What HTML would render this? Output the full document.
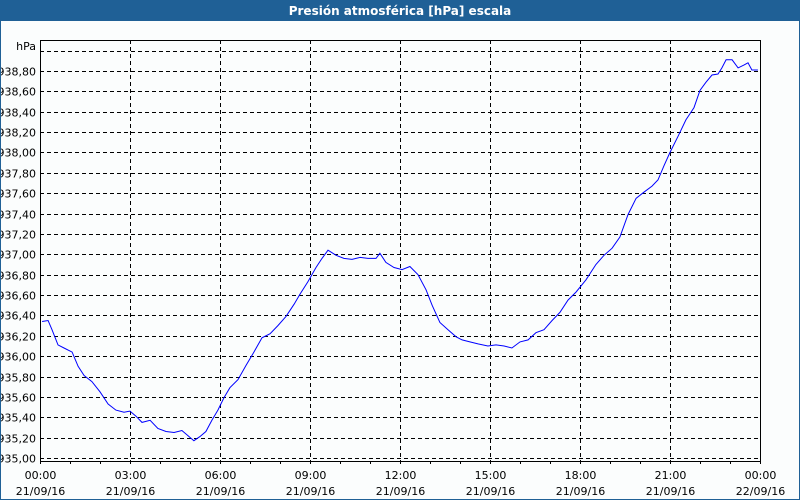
<!DOCTYPE html>
<html><head><meta charset="utf-8"><style>
html,body{margin:0;padding:0;background:#fff}
#wrap{position:relative;width:798px;height:498px;border:1px solid #1f6096;background:#fbfdfd;overflow:hidden}
#title{position:absolute;left:0;top:0;width:798px;height:20px;background:#1f6096;color:#fff;font:bold 12px "DejaVu Sans","Liberation Sans",sans-serif;text-align:center;line-height:20px}
svg{position:absolute;left:-1px;top:-1px}
svg text{font-family:"DejaVu Sans","Liberation Sans",sans-serif;font-size:11px;fill:#000}
</style></head><body>
<div id="wrap">
<div id="title">Presión atmosférica [hPa] escala</div>
<svg id="chart" width="800" height="500"></svg>
</div>
<script>
const hours=[0.07,0.27,0.4,0.6,0.8,1.07,1.27,1.47,1.73,2,2.27,2.53,2.8,3,3.2,3.4,3.67,3.93,4.2,4.47,4.73,4.93,5.13,5.33,5.53,5.73,5.93,6.13,6.33,6.6,6.87,7.13,7.4,7.67,7.93,8.2,8.47,8.67,8.93,9.2,9.4,9.6,9.87,10.13,10.4,10.67,10.93,11.2,11.33,11.53,11.8,12.07,12.33,12.6,12.87,13.07,13.33,13.6,13.87,14.07,14.33,14.6,14.93,15.2,15.47,15.73,16,16.27,16.53,16.8,17.07,17.33,17.6,17.87,18.2,18.53,18.8,19.07,19.33,19.6,19.87,20.13,20.4,20.6,20.8,21,21.27,21.53,21.8,22,22.2,22.4,22.6,22.73,22.87,23.07,23.27,23.47,23.6,23.73,23.93];
const pressure=[936.34,936.35,936.26,936.11,936.08,936.04,935.90,935.81,935.75,935.65,935.53,935.47,935.45,935.46,935.41,935.35,935.37,935.29,935.26,935.25,935.27,935.22,935.17,935.21,935.26,935.37,935.47,935.59,935.69,935.77,935.91,936.04,936.18,936.22,936.30,936.39,936.51,936.61,936.73,936.87,936.96,937.04,936.99,936.96,936.95,936.97,936.96,936.96,937.01,936.92,936.87,936.85,936.88,936.80,936.65,936.50,936.33,936.26,936.19,936.16,936.14,936.12,936.10,936.11,936.10,936.08,936.14,936.16,936.23,936.26,936.35,936.43,936.55,936.63,936.75,936.90,936.99,937.06,937.17,937.39,937.55,937.61,937.67,937.73,937.87,938.00,938.16,938.32,938.44,938.61,938.69,938.76,938.77,938.83,938.91,938.91,938.83,938.86,938.88,938.81,938.81];
const yTicks=["935,00","935,20","935,40","935,60","935,80","936,00","936,20","936,40","936,60","936,80","937,00","937,20","937,40","937,60","937,80","938,00","938,20","938,40","938,60","938,80"];
const xTimes=["00:00","03:00","06:00","09:00","12:00","15:00","18:00","21:00","00:00"];
const xDates=["21/09/16","21/09/16","21/09/16","21/09/16","21/09/16","21/09/16","21/09/16","21/09/16","22/09/16"];
const L=40,R=760,T=40,B=461;
const xs=h=>L+h*(R-L)/24;
const ys=v=>458-(v-935)/0.2*20.37;
const svg=document.getElementById('chart');
const NS='http://www.w3.org/2000/svg';
function mk(tag,attrs){const e=document.createElementNS(NS,tag);for(const k in attrs)e.setAttribute(k,attrs[k]);svg.appendChild(e);return e;}
// horizontal grid (including 939.00)
for(let i=0;i<=20;i++){const y=Math.round(ys(935+i*0.2))+0.5;
 const g=mk('line',{x1:L,x2:R,y1:y,y2:y,stroke:'#000','stroke-dasharray':'4,3'});
 
 
 if(i<yTicks.length){const t=mk('text',{x:36,y:y+4,'text-anchor':'end'});t.textContent=yTicks[i];
 
 }}
const hp=mk('text',{x:36,y:50,'text-anchor':'end'});hp.textContent='hPa';


// vertical grid + labels
for(let i=0;i<xTimes.length;i++){const x=Math.round(xs(i*3))+0.5;
 if(i>0&&i<8){const g=mk('line',{x1:x,x2:x,y1:T,y2:B,stroke:'#000','stroke-dasharray':'4,3'});
 
 }
 const t=mk('text',{x:x,y:479,'text-anchor':'middle'});t.textContent=xTimes[i];
 
 
 const d=mk('text',{x:x,y:495,'text-anchor':'middle'});d.textContent=xDates[i];
 
 }
for(let h=0;h<=24;h++){const x=Math.round(xs(h))+0.5;
 const tk=mk('line',{x1:x,x2:x,y1:B,y2:B+3,stroke:'#000'});
 
 }
// frame
const fr=mk('rect',{x:L+0.5,y:T+0.5,width:R-L,height:B-T,fill:'none',stroke:'#000'});


// series
const pts=hours.map((h,i)=>xs(h).toFixed(1)+','+ys(pressure[i]).toFixed(1)).join(' ');
const pl=mk('polyline',{points:pts,fill:'none',stroke:'#0000ff','stroke-width':1});


</script>
</body></html>
